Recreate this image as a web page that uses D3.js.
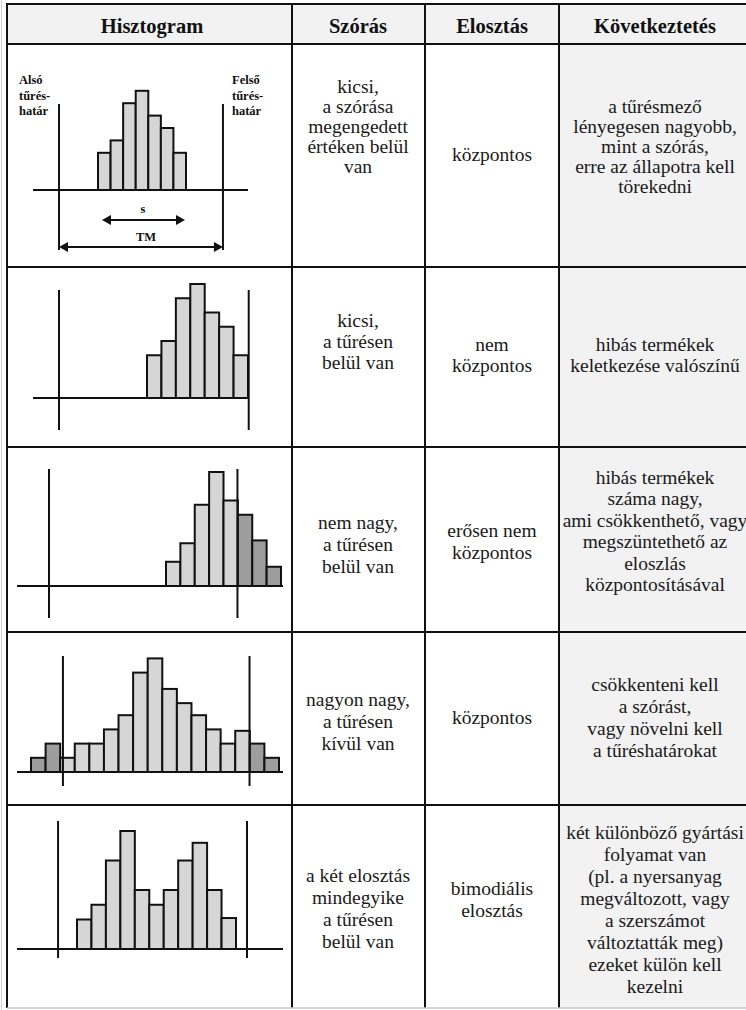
<!DOCTYPE html>
<html><head><meta charset="utf-8">
<script src="https://cdn.jsdelivr.net/npm/d3@7"></script>
<style>body{margin:0;background:#fff}svg{display:block}</style>
</head><body>
<svg id="c" width="746" height="1010"></svg>
<script>
// ---------- data ----------
const headers = ["Hisztogram", "Szórás", "Elosztás", "Következtetés"];
const szoras = [
  ["kicsi,", "a szórása", "megengedett", "értéken belül", "van"],
  ["kicsi,", "a tűrésen", "belül van"],
  ["nem nagy,", "a tűrésen", "belül van"],
  ["nagyon nagy,", "a tűrésen", "kívül van"],
  ["a két elosztás", "mindegyike", "a tűrésen", "belül van"]
];
const eloszlas = [
  ["központos"],
  ["nem", "központos"],
  ["erősen nem", "központos"],
  ["központos"],
  ["bimodiális", "elosztás"]
];
const kovetkeztetes = [
  ["a tűrésmező", "lényegesen nagyobb,", "mint a szórás,", "erre az állapotra kell", "törekedni"],
  ["hibás termékek", "keletkezése valószínű"],
  ["hibás termékek", "száma nagy,", "ami csökkenthető, vagy", "megszüntethető az", "eloszlás", "központosításával"],
  ["csökkenteni kell", "a szórást,", "vagy növelni kell", "a tűréshatárokat"],
  ["két különböző gyártási", "folyamat van", "(pl. a nyersanyag", "megváltozott, vagy", "a szerszámot", "változtatták meg)", "ezeket külön kell", "kezelni"]
];
// histogram frequencies (bin heights) per row
const hist1 = [3, 4, 7, 8, 6, 5, 3];
const hist2 = [3, 4, 7, 8, 6, 5, 3];
const hist3 = [1.7, 3, 5.7, 8, 6, 5, 3.2, 1.35];
const hist4 = [1, 2, 1, 2, 2, 3, 4, 7, 8, 5.85, 4.85, 4, 3, 2, 2.9, 2, 1];
const hist5 = [2, 3, 6, 8, 4, 3, 4, 6, 7.2, 4, 2.1];
// tolerance limits (lower, upper) in bin units
const limits1 = [-3.1, 9.94];
const limits2 = [-6.1, 7.05];
const limits3 = [-8.14, 4.97];
const limits4 = [2.19, 14.98];
const limits5 = [-1.31, 11.76];
const labelLower = ["Alsó", "tűrés-", "határ"];
const labelUpper = ["Felső", "tűrés-", "határ"];
const arrowLabels = ["s", "TM"];

// ---------- layout ----------
const colX = [7, 292, 425, 559, 751];
const rowY = [4, 44, 267, 447, 632, 805, 1008];
const SERIF = "'Liberation Serif','Times New Roman',serif";
const panels = [
  {hist: hist1, lim: limits1, bars: [98, 186], base: 190, baseX: [33, 248], v: [104, 250], unit: 12.4},
  {hist: hist2, lim: limits2, bars: [147, 248], base: 398, baseX: [33, 249], v: [290, 430], unit: 14.25},
  {hist: hist3, lim: limits3, bars: [166, 281], base: 586, baseX: [17, 283], v: [469, 618], unit: 14.25},
  {hist: hist4, lim: limits4, bars: [31, 279], base: 772, baseX: [17, 283], v: [656, 786], unit: 14.2},
  {hist: hist5, lim: limits5, bars: [77, 236], base: 949, baseX: [17, 283], v: [821, 958], unit: 14.75}
];
// first line y, line step for text columns
const textLayout = [
  {c2: [86, 20], c3: [154, 20], c4: [106, 20]},
  {c2: [320, 21], c3: [344, 21], c4: [344, 21]},
  {c2: [522, 22], c3: [530, 22], c4: [477, 21.5]},
  {c2: [699, 22], c3: [717, 22], c4: [684, 22]},
  {c2: [875, 22], c3: [888, 22], c4: [832, 22]}
];

const svg = d3.select("#c");
const W = 746, H = 1010;

// backgrounds
svg.append("rect").attr("x", colX[0]).attr("y", rowY[0]).attr("width", W - colX[0]).attr("height", rowY[1] - rowY[0]).attr("fill", "#f2f2f2");
svg.append("rect").attr("x", colX[3]).attr("y", rowY[1]).attr("width", W - colX[3]).attr("height", rowY[6] - rowY[1]).attr("fill", "#f2f2f2");

// headers
const colCenters = [152, 358, 492, 655];
svg.selectAll("text.hdr").data(headers).join("text")
  .attr("class", "hdr")
  .attr("x", (d, i) => colCenters[i]).attr("y", (rowY[0] + rowY[1]) / 2 + 2)
  .attr("dy", "0.35em").attr("text-anchor", "middle")
  .attr("font-family", SERIF).attr("font-weight", "bold").attr("font-size", 20.5)
  .attr("fill", "#111").text(d => d);

// histograms
const ink = "#111";
panels.forEach((p, r) => {
  const g = svg.append("g");
  const n = p.hist.length;
  const x = d3.scaleLinear().domain([0, n]).range(p.bars);
  const y = d3.scaleLinear().domain([0, 8]).range([p.base, p.base - 8 * p.unit]);
  const outside = i => (i + 0.5) < p.lim[0] || (i + 0.5) > p.lim[1];
  g.selectAll("rect").data(p.hist).join("rect")
    .attr("x", (d, i) => x(i)).attr("width", (d, i) => x(i + 1) - x(i))
    .attr("y", d => y(d)).attr("height", d => p.base - y(d))
    .attr("fill", (d, i) => outside(i) ? "#9d9d9d" : "#d6d6d6")
    .attr("stroke", ink).attr("stroke-width", 2);
  // baseline
  g.append("line").attr("x1", p.baseX[0]).attr("x2", p.baseX[1])
    .attr("y1", p.base).attr("y2", p.base).attr("stroke", ink).attr("stroke-width", 2);
  // tolerance lines
  g.selectAll("line.lim").data(p.lim).join("line").attr("class", "lim")
    .attr("x1", d => x(d)).attr("x2", d => x(d))
    .attr("y1", p.v[0]).attr("y2", p.v[1]).attr("stroke", ink).attr("stroke-width", 2);

  if (r === 0) {
    const lx = x(p.lim[0]), ux = x(p.lim[1]);
    const lab = (arr, xx) => g.selectAll(null).data(arr).join("text")
      .attr("x", xx).attr("y", (d, i) => 80 + i * 15.5).attr("dy", "0.35em")
      .attr("font-family", SERIF).attr("font-weight", "bold").attr("font-size", 12.5)
      .attr("fill", "#111").text(d => d);
    lab(labelLower, 19);
    lab(labelUpper, 232);
    // arrows
    const arrow = (x1, x2, yy) => {
      g.append("line").attr("x1", x1 + 6).attr("x2", x2 - 6).attr("y1", yy).attr("y2", yy)
        .attr("stroke", ink).attr("stroke-width", 2);
      g.append("path").attr("d", `M${x1},${yy}L${x1 + 9},${yy - 5}L${x1 + 9},${yy + 5}Z`).attr("fill", ink);
      g.append("path").attr("d", `M${x2},${yy}L${x2 - 9},${yy - 5}L${x2 - 9},${yy + 5}Z`).attr("fill", ink);
    };
    arrow(102, 185, 220);
    arrow(lx, ux, 247);
    g.append("text").attr("x", 143).attr("y", 209).attr("dy", "0.35em").attr("text-anchor", "middle")
      .attr("font-family", SERIF).attr("font-weight", "bold").attr("font-size", 12.5).attr("fill", "#111").text(arrowLabels[0]);
    g.append("text").attr("x", 146).attr("y", 237).attr("dy", "0.35em").attr("text-anchor", "middle")
      .attr("font-family", SERIF).attr("font-weight", "bold").attr("font-size", 12.5).attr("fill", "#111").text(arrowLabels[1]);
  }
});

// body text
const cellText = (lines, cx, start, step) => svg.append("g").selectAll("text").data(lines).join("text")
  .attr("x", cx).attr("y", (d, i) => start + i * step).attr("dy", "0.35em")
  .attr("text-anchor", "middle").attr("font-family", SERIF).attr("font-size", 19.5)
  .attr("fill", "#1a1a1a").text(d => d);
textLayout.forEach((t, r) => {
  cellText(szoras[r], colCenters[1], t.c2[0], t.c2[1]);
  cellText(eloszlas[r], colCenters[2], t.c3[0], t.c3[1]);
  cellText(kovetkeztetes[r], colCenters[3], t.c4[0], t.c4[1]);
});

// grid
const grid = svg.append("g").attr("stroke", "#111").attr("stroke-width", 2);
rowY.slice(0, 6).forEach(yy => grid.append("line").attr("x1", colX[0] - 1).attr("x2", W).attr("y1", yy).attr("y2", yy));
colX.slice(0, 4).forEach(xx => grid.append("line").attr("x1", xx).attr("x2", xx).attr("y1", rowY[0] - 1).attr("y2", rowY[6]));
svg.append("line").attr("x1", colX[0]).attr("x2", W).attr("y1", rowY[6]).attr("y2", rowY[6]).attr("stroke", "#c8c8c8").attr("stroke-width", 1.5);
svg.append("line").attr("x1", 1.5).attr("x2", 1.5).attr("y1", 0).attr("y2", H).attr("stroke", "#cfcfcf").attr("stroke-width", 1);
</script>
</body></html>
